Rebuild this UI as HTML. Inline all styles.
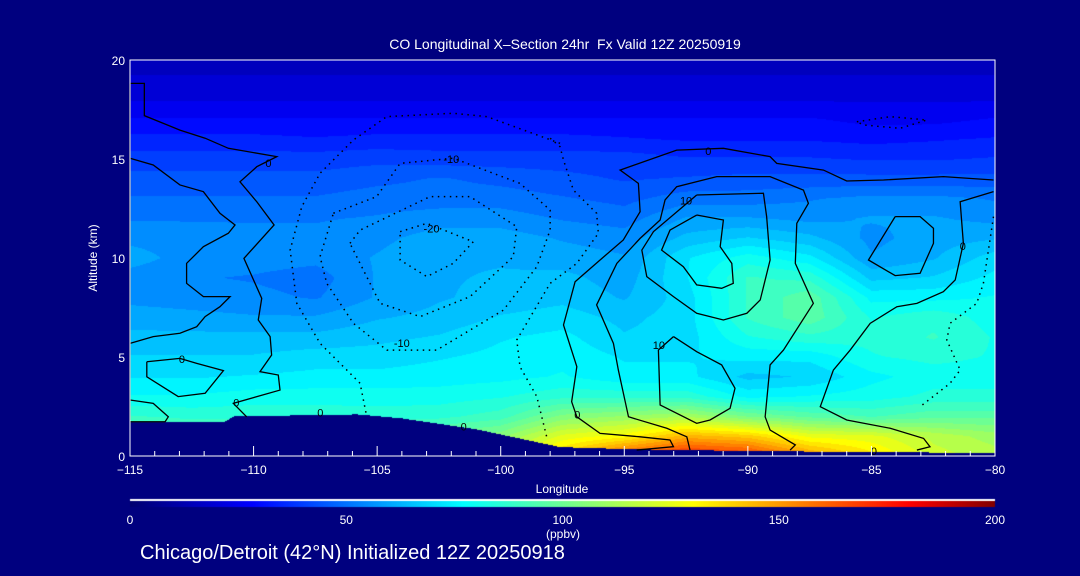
<!DOCTYPE html>
<html><head><meta charset="utf-8">
<style>
html,body{margin:0;padding:0;background:#00007f;}
#root{position:relative;width:1080px;height:576px;background:#00007f;overflow:hidden;font-family:"Liberation Sans",sans-serif;color:#fff;}
.t{position:absolute;white-space:nowrap;color:#fff;}
canvas,svg{position:absolute;left:0;top:0;}
</style></head>
<body>
<div id="root">
<canvas id="heat" width="1080" height="576"></canvas>
<svg id="ov" width="1080" height="576"></svg>
<div class="t" style="left:0;width:1130px;text-align:center;top:36px;font-size:14px;">CO Longitudinal X–Section 24hr&nbsp; Fx Valid 12Z 20250919</div>
<div class="t" style="left:93px;top:258px;font-size:12px;transform:translate(-50%,-50%) rotate(-90deg);">Altitude (km)</div>
<div class="t" style="left:562px;top:482px;font-size:12px;transform:translateX(-50%);">Longitude</div>
<div class="t" style="left:563px;top:527px;font-size:12px;transform:translateX(-50%);">(ppbv)</div>
<div class="t" style="left:140px;top:542px;font-size:20px;">Chicago/Detroit (42°N) Initialized 12Z 20250918</div>
</div>
<script>
const lons=[-115,-112.5,-110,-107.5,-105,-102.5,-100,-97.5,-95,-92.5,-90,-87.5,-85,-82.5,-80];
const alts=[0,1,2,3,4,5,6,7,8,9,10,11,12,13,14,15,16,17,18,19,20];
const coValues=[
[110,105,105,105,105,110,120,140,165,175,170,150,135,120,115],
[100,96,98,98,96,100,106,124,130,145,140,126,124,116,110],
[88,86,86,86,85,86,90,104,108,112,102,96,92,96,96],
[78,78,80,80,80,80,82,86,86,86,76,78,80,84,84],
[72,72,73,74,74,75,76,78,74,74,66,68,76,80,80],
[68,68,68,70,70,72,74,76,72,72,74,74,82,84,82],
[64,64,64,64,66,68,72,74,68,70,82,86,84,88,82],
[60,59,58,58,62,64,68,70,66,70,88,96,82,86,80],
[56,55,54,52,58,62,64,66,62,70,88,96,76,76,78],
[55,53,52,50,58,62,63,64,60,72,88,86,66,68,74],
[60,55,55,54,58,62,62,60,58,72,80,74,58,62,70],
[56,55,54,54,56,60,60,57,55,64,68,64,56,60,62],
[52,52,52,52,53,55,55,52,50,58,58,56,58,58,56],
[48,48,48,48,50,50,50,48,46,50,50,52,54,54,52],
[44,44,44,44,46,48,46,44,42,43,44,44,44,44,44],
[40,40,40,40,41,40,40,40,40,38,38,38,37,37,38],
[34,34,34,33,34,34,34,34,33,32,32,32,31,32,33],
[28,28,28,28,28,28,28,28,28,28,28,28,26,26,28],
[22,22,22,22,22,22,22,22,22,22,22,22,22,22,22],
[18,18,18,18,18,18,18,18,18,18,18,18,18,18,18],
[16,16,16,16,16,16,16,16,16,16,16,16,16,16,16]];
const terrainLon=[-115,-111.2,-110.8,-105.8,-104,-101,-97.6,-95,-90,-80];
const terrainAlt=[1.7,1.7,2.0,2.1,1.9,1.35,0.45,0.35,0.25,0.15];
const xTicks=[-115,-110,-105,-100,-95,-90,-85,-80];
const yTicks=[0,5,10,15,20];
const cbTicks=[0,50,100,150,200];
const solidContours=[
[[-115,18.82],[-114.42,18.82],[-114.42,17.19],[-112.98,16.46],[-111.96,16.05],[-111.02,15.54],[-109.06,15.12],[-109.87,14.61],[-110.55,13.85],[-109.87,12.84],[-109.17,11.67],[-110.39,9.98],[-109.67,7.96],[-109.81,6.87],[-109.33,6.03],[-109.27,5.10],[-109.74,4.26],[-109.0,4.09],[-108.93,3.33],[-110.82,2.66],[-110.28,1.98]],
[[-115,15.04],[-114.06,14.70],[-112.98,13.69],[-112.03,13.35],[-111.36,12.26],[-110.75,11.67],[-111.02,11.25],[-112.03,10.57],[-112.71,9.73],[-112.71,8.72],[-112.03,8.05],[-110.95,8.05],[-111.36,7.54],[-111.96,7.04],[-112.30,6.53],[-112.98,6.20],[-114.06,6.03],[-115,5.69]],
[[-114.32,4.76],[-112.98,4.93],[-112.30,4.68],[-111.22,4.31],[-111.96,3.17],[-113.05,3.0],[-114.32,4.0],[-114.32,4.76]],
[[-115,2.83],[-114.06,2.66],[-113.45,1.98],[-113.58,1.73],[-115,1.73]],
[[-115,18.8],[-115,1.8]],
[[-80.06,13.94],[-82.09,14.11],[-84.51,13.94],[-86.0,13.89],[-86.94,14.44],[-88.83,14.78],[-89.10,15.12],[-90.99,15.54],[-92.88,15.45],[-95.17,14.44],[-94.43,13.77],[-94.36,12.34],[-95.04,10.91],[-95.98,9.90],[-96.99,8.80],[-97.46,6.62],[-96.92,4.51],[-97.13,2.74],[-96.92,1.98],[-95.98,1.14],[-94.36,0.97],[-93.15,0.81],[-93.01,0.47],[-94.50,0.30]],
[[-92.34,0.30],[-92.47,0.97],[-93.28,1.40],[-94.83,1.98],[-95.24,4.34],[-95.44,5.69],[-96.12,7.63],[-95.30,9.73],[-94.36,10.99],[-93.55,11.92],[-93.35,12.93],[-92.88,13.60],[-91.26,14.11],[-89.10,14.11],[-87.75,13.43],[-87.55,12.76],[-88.02,11.75],[-88.08,9.73],[-87.35,7.71],[-88.56,5.35],[-89.10,4.60],[-89.30,1.98],[-89.10,1.31],[-88.08,0.56],[-88.29,0.30]],
[[-92.07,13.18],[-89.37,13.27],[-89.24,12.09],[-89.10,9.90],[-89.50,7.88],[-90.04,7.21],[-90.99,6.87],[-92.07,7.21],[-93.01,8.05],[-94.09,9.06],[-94.29,10.40],[-93.82,11.33],[-92.07,13.18]],
[[-92.07,12.17],[-90.99,11.92],[-91.12,10.57],[-90.65,9.73],[-90.59,8.72],[-91.06,8.47],[-92.07,8.64],[-92.61,9.56],[-93.49,10.40],[-93.15,11.41],[-92.07,12.17]],
[[-93.01,6.03],[-92.07,5.27],[-91.06,4.60],[-90.52,3.42],[-90.72,2.41],[-91.53,1.82],[-92.07,1.65],[-93.55,2.58],[-93.62,5.35],[-93.01,6.03]],
[[-80.06,13.35],[-81.41,12.84],[-81.28,10.74],[-81.61,8.89],[-82.09,8.30],[-83.16,7.71],[-83.97,7.54],[-85.05,6.70],[-85.86,5.35],[-86.54,4.34],[-87.07,2.49],[-86.0,1.82],[-84.24,1.40],[-82.89,0.89],[-82.63,0.47],[-83.16,0.30]],
[[-84.04,12.09],[-83.03,12.09],[-82.49,11.50],[-82.49,10.74],[-83.03,9.23],[-84.04,9.11],[-85.12,9.90],[-84.04,12.09]]];
const dottedContours=[
[[-97.60,15.79],[-100.56,17.14],[-101.92,17.31],[-104.61,17.14],[-105.96,15.96],[-107.31,14.28],[-108.05,12.59],[-108.52,10.40],[-108.25,7.71],[-107.31,5.69],[-105.69,3.67],[-105.42,1.98]],
[[-106.77,12.26],[-105.02,13.10],[-104.07,14.78],[-101.92,15.04],[-99.22,13.77],[-98.0,12.42],[-98.0,11.41],[-98.54,9.56],[-99.89,7.37],[-102.59,5.35],[-104.61,5.35],[-105.96,6.70],[-107.04,8.72],[-107.31,10.07],[-106.77,12.26]],
[[-106.10,10.74],[-105.69,11.41],[-102.86,13.10],[-101.24,13.10],[-99.35,11.58],[-99.49,10.07],[-101.24,8.05],[-103.26,7.04],[-104.88,7.71],[-106.10,10.74]],
[[-104.07,11.33],[-102.99,11.75],[-101.11,10.82],[-101.92,9.73],[-102.99,9.06],[-104.07,9.90],[-104.07,11.33]],
[[-98.0,16.05],[-97.60,15.62],[-97.46,14.95],[-97.06,13.43],[-96.12,12.26],[-96.05,11.25],[-96.92,9.73],[-98.0,8.72],[-99.35,5.86],[-99.22,4.51],[-98.54,3.0],[-98.14,0.97]],
[[-80.06,12.09],[-80.47,8.72],[-80.74,7.71],[-81.82,6.70],[-81.95,5.86],[-81.41,4.34],[-81.82,3.67],[-83.03,2.49]],
[[-85.59,16.88],[-84.24,17.14],[-82.76,16.97],[-83.84,16.55],[-85.32,16.72],[-85.59,16.88]]];
const contourLabels=[["0",-109.4,14.8],["0",-112.9,4.9],["0",-110.7,2.7],["0",-107.3,2.2],["0",-101.5,1.5],["-10",-102.0,15.0],["-20",-102.8,11.5],["-10",-104,5.7],["0",-91.6,15.4],["10",-92.5,12.9],["10",-93.6,5.6],["0",-96.9,2.1],["0",-81.3,10.6],["0",-84.9,0.25]];

const PX0=130,PX1=995,PY0=60,PY1=456;
const xS=l=>PX0+(l-(-115))/35*(PX1-PX0);
const yS=a=>PY1-a/20*(PY1-PY0);
const stops=[[0,[0,0,112]],[28,[0,0,255]],[77,[0,255,255]],[104,[128,255,128]],[130,[255,255,0]],[180,[255,0,0]],[200,[128,0,0]]];
function cmap(v){v=Math.max(0,Math.min(200,v));for(let i=1;i<stops.length;i++){if(v<=stops[i][0]){const a=stops[i-1],b=stops[i],t=(v-a[0])/(b[0]-a[0]);return a[1].map((c,k)=>Math.round(c+(b[1][k]-c)*t));}}return stops[stops.length-1][1];}
function interp1(xs,ys,x){if(x<=xs[0])return ys[0];for(let i=1;i<xs.length;i++){if(x<=xs[i]){const t=(x-xs[i-1])/(xs[i]-xs[i-1]);return ys[i-1]+(ys[i]-ys[i-1])*t;}}return ys[ys.length-1];}
function field(lon,alt){
  let i=0;while(i<lons.length-2&&lon>lons[i+1])i++;
  let j=0;while(j<alts.length-2&&alt>alts[j+1])j++;
  const tx=Math.max(0,Math.min(1,(lon-lons[i])/(lons[i+1]-lons[i]))),ty=Math.max(0,Math.min(1,(alt-alts[j])/(alts[j+1]-alts[j])));
  const a=coValues[j][i],b=coValues[j][i+1],c=coValues[j+1][i],d=coValues[j+1][i+1];
  return (a*(1-tx)+b*tx)*(1-ty)+(c*(1-tx)+d*tx)*ty;}
const cv=document.getElementById('heat'),ctx=cv.getContext('2d');
ctx.fillStyle='#00007f';ctx.fillRect(0,0,1080,576);
const W=PX1-PX0,H=PY1-PY0,img=ctx.createImageData(W,H);
for(let py=0;py<H;py++){const alt=(PY1-(PY0+py+0.5))/(PY1-PY0)*20;
 for(let px=0;px<W;px++){const lon=-115+(px+0.5)/W*35;let col;
  if(alt<interp1(terrainLon,terrainAlt,lon))col=[0,0,127];
  else{let v=field(lon,alt);v=Math.round(v/5)*5;col=cmap(v);}
  const k=(py*W+px)*4;img.data[k]=col[0];img.data[k+1]=col[1];img.data[k+2]=col[2];img.data[k+3]=255;}}
ctx.putImageData(img,PX0,PY0);
for(let x=PX0;x<PX1;x++){const c=cmap((x-PX0)/(PX1-PX0)*200);ctx.fillStyle=`rgb(${c[0]},${c[1]},${c[2]})`;ctx.fillRect(x,501,1,6);}
ctx.fillStyle='#fff';ctx.fillRect(PX0,499,PX1-PX0,2);

const NS='http://www.w3.org/2000/svg',ov=document.getElementById('ov');
function mk(tag,attrs){const e=document.createElementNS(NS,tag);for(const k in attrs)e.setAttribute(k,attrs[k]);ov.appendChild(e);return e;}
solidContours.forEach(c=>{const e=mk('polyline',{points:c.map(p=>xS(p[0])+','+yS(p[1])).join(' '),fill:'none',stroke:'#000','stroke-width':1.3});

});
dottedContours.forEach(c=>{const e=mk('polyline',{points:c.map(p=>xS(p[0])+','+yS(p[1])).join(' '),fill:'none',stroke:'#000','stroke-width':1.5,'stroke-dasharray':'1.5 4.5'});

});
contourLabels.forEach(l=>{const e=mk('text',{x:xS(l[1]),y:yS(l[2])+4,'font-size':11,'font-family':'Liberation Sans, sans-serif',fill:'#000','text-anchor':'middle'});e.textContent=l[0];

});
const fr=mk('rect',{x:PX0,y:PY0,width:PX1-PX0,height:PY1-PY0,fill:'none',stroke:'#fff','stroke-width':1});


for(let l=-115;l<=-80;l++){const maj=l%5===0;const e=mk('line',{x1:xS(l),x2:xS(l),y1:PY1,y2:PY1-(maj?10:5),stroke:'#fff','stroke-width':1});

}
xTicks.forEach(l=>{const e=mk('text',{x:xS(l),y:474,'font-size':12,'font-family':'Liberation Sans, sans-serif',fill:'#fff','text-anchor':'middle'});e.textContent=(l<0?'\u2212'+(-l):l);

});
yTicks.forEach(a=>{const e=mk('text',{x:125,y:yS(a)+5,'font-size':12,'font-family':'Liberation Sans, sans-serif',fill:'#fff','text-anchor':'end'});e.textContent=a;

});
cbTicks.forEach(v=>{const e=mk('text',{x:PX0+v/200*(PX1-PX0),y:524,'font-size':12,'font-family':'Liberation Sans, sans-serif',fill:'#fff','text-anchor':'middle'});e.textContent=v;

});
</script>
</body></html>
